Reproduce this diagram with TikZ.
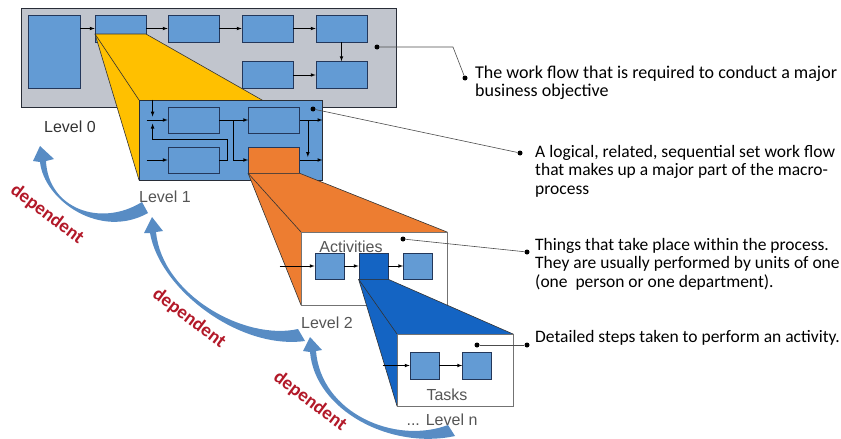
\documentclass[tikz,border=0pt]{standalone}
\usepackage{fontspec}
\setmainfont{Liberation Sans}
\newfontfamily\notefont{Carlito}
\usetikzlibrary{calc, positioning}
\definecolor{levelgray}{RGB}{193,197,205}
\definecolor{boxblue}{RGB}{99,155,212}
\definecolor{boxline}{RGB}{35,55,90}
\definecolor{frameline}{RGB}{40,45,55}
\definecolor{zoomyellow}{RGB}{255,192,0}
\definecolor{zoomorange}{RGB}{237,125,49}
\definecolor{zoomblue}{RGB}{20,100,195}
\definecolor{arcblue}{RGB}{88,140,196}
\definecolor{depred}{RGB}{178,24,40}
\definecolor{labelgray}{RGB}{85,85,85}

\begin{document}
\begin{tikzpicture}[x=1pt, y=-1pt, >=latex, on grid,
    box/.style={draw=boxline, fill=boxblue, line width=0.7pt, minimum width=51pt, minimum height=27pt, inner sep=0pt},
    sq/.style={box, minimum width=29pt},
    frame/.style={draw=frameline, line width=0.8pt, inner sep=0pt},
    flow/.style={->, line width=0.7pt},
    rim/.style={draw=black!80, line width=0.6pt},
    lvl/.style={text=labelgray, font=\fontsize{16}{18}\selectfont},
    pin/.style={circle, fill=black, inner sep=0pt, minimum size=5pt},
    lead/.style={draw=black!70, line width=0.6pt},
    note/.style={anchor=north west, inner sep=0pt, align=left, font=\notefont\fontsize{17.5}{18.5}\selectfont},
    dep/.style={text=depred, rotate=-37, font=\notefont\bfseries\fontsize{19}{19}\selectfont}]

  \useasboundingbox (0,0) rectangle (841,439);

  % level 0
  \node[frame, fill=levelgray, minimum width=375pt, minimum height=99pt] (l0) at (208.5,57.5) {};
  \node[box, minimum width=52pt, minimum height=73pt] (big) at (54,51.5) {};
  \node[box] (a1) at (120.5,28.5) {};
  \node[box, right=73pt of a1] (a2) {};
  \node[box, right=74pt of a2] (a3) {};
  \node[box, right=74pt of a3] (a4) {};
  \node[box, below=46.5pt of a4] (b4) {};
  \node[box, left=74pt of b4] (b3) {};
  \draw[flow] (big.east |- a1.west) -- (a1.west);
  \draw[flow] (a1) -- (a2);
  \draw[flow] (a2) -- (a3);
  \draw[flow] (a3) -- (a4);
  \draw[flow] (a4) -- (b4);
  \draw[flow] (b3) -- (b4);

  % zoom 0 -> 1
  \filldraw[fill=zoomyellow, rim] (95,34) -- (146,34) -- (262,100) -- (139,180) -- cycle;
  \draw[rim] (95,34) -- (139,100);

  % level 1
  \node[frame, fill=boxblue, minimum width=183pt, minimum height=80pt] (l1) at (230.5,140) {};
  \node[box, minimum height=26pt] (c1) at (193.5,120) {};
  \node[box, minimum height=26pt, right=80.5pt of c1] (c2) {};
  \node[box, minimum height=26pt, below=40pt of c1] (c3) {};
  \node[box, minimum height=26pt, fill=zoomorange, below=40pt of c2] (c4) {};
  \draw[flow] (l1.north west) ++(14,0) -- ++(0,17);
  \draw[flow] ([xshift=-21pt]c1.west) -- (c1.west);
  \draw[flow] (c3.east) -- ++(8,0) |- ($(l1.north west)+(14,40)$) -- ++(0,-16);
  \draw[flow] ([xshift=-21pt]c3.west) -- (c3.west);
  \draw[flow] (c1) -- (c2);
  \draw[flow] ($(c1.east)!0.5!(c2.west)$) |- (c4.west);
  \draw[flow] (c2.east) -- (c2.east -| l1.east);
  \draw[flow] ([xshift=8pt]c2.east) -- ([xshift=8pt,yshift=3pt]c4.east);
  \draw[flow] (c4.east) -- (c4.east -| l1.east);

  % zoom 1 -> 2
  \filldraw[fill=zoomorange, rim] (c4.south west) -- (c4.south east) -- (447,232) -- (301,305) -- cycle;
  \draw[rim] (c4.south west) -- (301,232);

  % level 2
  \node[frame, draw=black!55, fill=white, minimum width=146pt, minimum height=73pt] (l2) at (374,268.5) {};
  \node[sq, minimum height=26pt] (d1) at (329.5,266) {};
  \node[sq, minimum height=26pt, fill=zoomblue, right=44pt of d1] (d2) {};
  \node[sq, minimum height=26pt, right=44.5pt of d2] (d3) {};
  \draw[flow] ([xshift=-35pt]d1.west) -- (d1.west);
  \draw[flow] (d1) -- (d2);
  \draw[flow] (d2) -- (d3);

  % zoom 2 -> n
  \filldraw[fill=zoomblue, rim] (d2.south west) -- (d2.south east) -- (513,334) -- (397,406) -- cycle;
  \draw[rim] (d2.south west) -- (397,334);

  % level n
  \node[frame, draw=black!55, fill=white, minimum width=116pt, minimum height=72pt] (ln) at (455,370) {};
  \node[sq] (e1) at (424.5,365.5) {};
  \node[sq, right=52.5pt of e1] (e2) {};
  \draw[flow] ([xshift=-27pt]e1.west) -- (e1.west);
  \draw[flow] (e1) -- (e2);

  % labels
  \node[lvl, text=black!80] (lab0) at (70,127) {Level 0};
  \node[lvl] (lab1) at (165,197) {Level 1};
  \node[lvl] (lab2) at (327,323) {Level 2};
  \node[lvl] (labn) at (442,420) {... Level n};
  \node[lvl] (act) at (351,247) {Activities};
  \node[lvl] (tsk) at (447,395) {Tasks};

  % dependency arcs
  \fill[arcblue] (142,202) .. controls (100,228) and (48,208) .. (46,161)
    -- (54,159) -- (40,146) -- (33,161) -- (40,162)
    .. controls (44,200) and (100,240) .. (148,213) -- cycle;
  \fill[arcblue] (298,329) .. controls (245,341) and (162,295) .. (156,232)
    -- (163,231) -- (152,217) -- (144,233) -- (150,233)
    .. controls (160,290) and (240,350) .. (305,341) -- cycle;
  \fill[arcblue] (448,425) .. controls (395,445) and (321,413) .. (316,351)
    -- (322,350) -- (310,337) -- (303,351) -- (310,352)
    .. controls (315,410) and (390,450) .. (455,436) -- cycle;
  \node[dep] (dep1) at (47,214) {dependent};
  \node[dep] (dep2) at (189,318) {dependent};
  \node[dep] (dep3) at (310,401) {dependent};

  % notes
  \node[pin] (p0) at (377,47) {};
  \node[pin] (n0) at (465,78) {};
  \coordinate (k0) at (453,47);
  \draw[lead] (p0) -- (k0) -- (n0);
  \node[note, font=\notefont\fontsize{18}{18.5}\selectfont] (t0) at (475,65.5) {The work flow that is required to conduct a major\\business objective};

  \node[pin] (p1) at (313,109) {};
  \node[pin] (n1) at (520,153) {};
  \draw[lead] (p1) -- (n1);
  \node[note] (t1) at (535,145) {A logical, related, sequential set work flow\\that makes up a major part of the macro-\\process};

  \node[pin] (p2) at (403,239) {};
  \node[pin] (n2) at (527,252) {};
  \draw[lead] (p2) -- (n2);
  \node[note] (t2) at (535,238) {Things that take place within the process.\\They are usually performed by units of one\\(one\ \ person or one department).};

  \node[pin] (p3) at (477,345) {};
  \node[pin] (n3) at (527,345) {};
  \draw[lead] (p3) -- (n3);
  \node[note] (t3) at (535,330) {Detailed steps taken to perform an activity.};
\end{tikzpicture}
\end{document}
